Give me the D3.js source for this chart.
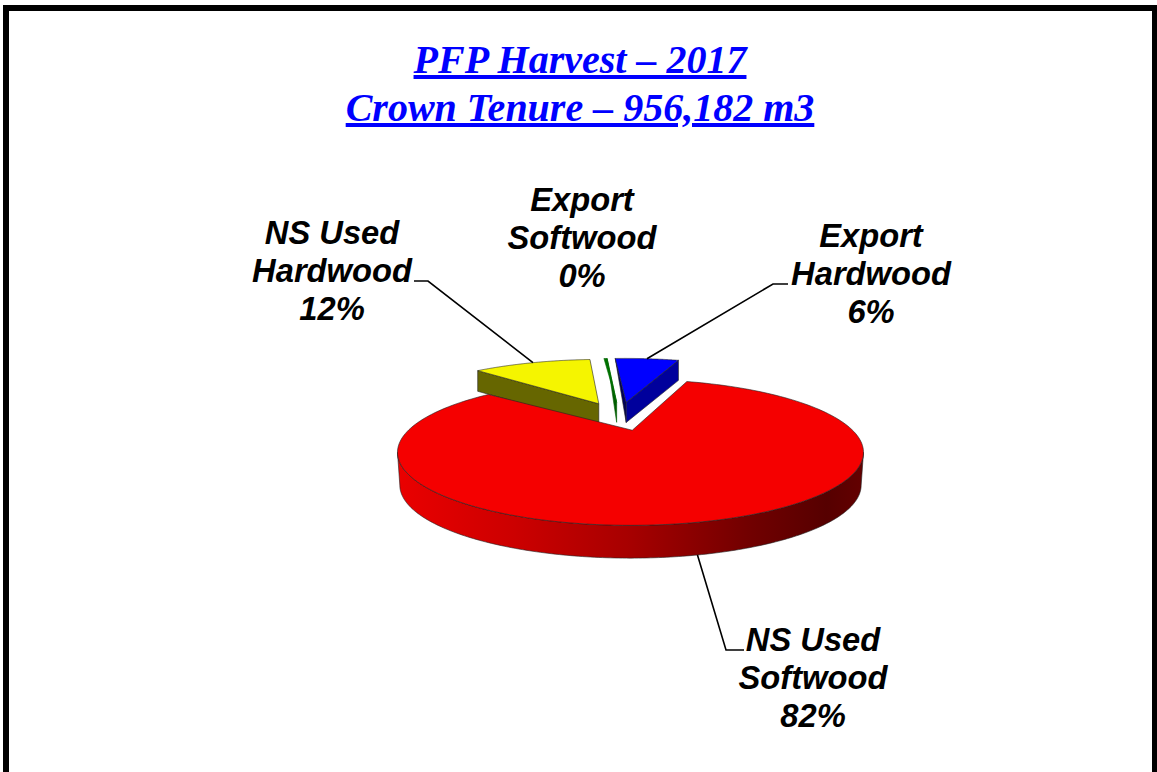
<!DOCTYPE html>
<html>
<head>
<meta charset="utf-8">
<title>PFP Harvest 2017</title>
<script src="https://cdn.jsdelivr.net/npm/d3@7"></script>
<style>
  html, body { margin: 0; padding: 0; background: white; overflow: hidden; }
</style>
</head>
<body>
<script>
// chart data, order is clockwise starting at the blue slice
var categories = ["Export Hardwood", "NS Used Softwood", "NS Used Hardwood", "Export Softwood"];
var values = [6, 81.3, 12, 0.3];
var percentLabels = ["6%", "82%", "12%", "0%"];
var titleLines = ["PFP Harvest – 2017", "Crown Tenure – 956,182 m3"];

var topColors = ["#0000ff", "#f50000", "#f5f500", "#007000"];
var wallColors = ["#00009c", "#a00000", "#666600", "#005c00"];
var backWallColors = ["#00005a", "#a00000", "#666600", "#005c00"];

// parameters plot
var width = 1157;
var height = 772;
var pieParam = {
  cx: 620,
  cy: 442,
  rx: 233,
  ry: 73,
  explodeX: 41,
  explodeY: 10.7,
  start: -0.06
};
var sliceSquash = [0.72, 0.765, 0.65, 0.72];

// label blocks: x centre, first baseline, elbow of the leader line
var labelParam = [
  {x: 871, y: 247, lines: ["Export", "Hardwood"], elbow: [[773, 284], [788, 284]], shift: 0},
  {x: 813, y: 651, lines: ["NS Used", "Softwood"], elbow: [[726, 650], [744, 650]], shift: 0.035},
  {x: 332, y: 244, lines: ["NS Used", "Hardwood"], elbow: [[428, 281], [414, 281]], shift: 0},
  {x: 582, y: 211, lines: ["Export", "Softwood"], elbow: null, shift: 0}
];

var svg = d3.select("body")
            .append("svg")
            .attr("width", width)
            .attr("height", height)
            .style("display", "block");

// red wall shading runs from left to right
var gradient = svg.append("defs")
                  .append("linearGradient")
                  .attr("id", "redWall")
                  .attr("gradientUnits", "userSpaceOnUse")
                  .attr("x1", 398)
                  .attr("x2", 864)
                  .attr("y1", 0)
                  .attr("y2", 0);
[[0, "#ea0000"], [0.25, "#cc0000"], [0.5, "#a60000"], [0.75, "#720000"], [0.92, "#560000"], [1, "#640000"]]
  .forEach(function(s) {
    gradient.append("stop").attr("offset", s[0]).attr("stop-color", s[1]);
  });

var pie = d3.pie()
            .sort(null)
            .value(function(d) { return d; })
            .startAngle(pieParam.start)
            .endAngle(pieParam.start + 2 * Math.PI);

var slices = pie(values).map(function(s, i) {
  /*
  Adds the projected geometry to every slice: the ellipse
  centre after exploding, the apex and the wall depth
  */
  var mid = (s.startAngle + s.endAngle) / 2;
  var sliceInfo = {
    index: i,
    start: s.startAngle,
    end: s.endAngle,
    mid: mid,
    cx: pieParam.cx + pieParam.explodeX * Math.sin(mid),
    cy: pieParam.cy - pieParam.explodeY * Math.cos(mid),
    depth: 26.5 - 6.5 * Math.cos(mid)
  };
  var lift = 25.5 + 3.5 * Math.cos(mid);
  sliceInfo.apex = [sliceInfo.cx + 7 * Math.sin(mid), sliceInfo.cy - lift];
  return sliceInfo;
});

function project(angle, squash) {
  // far side of the pie looks narrower than the near side
  var half = angle / 2;
  return 2 * Math.atan2(squash * Math.sin(half), Math.cos(half));
}

function rim(slice, angle, drop) {
  var t = project(angle, sliceSquash[slice.index]);
  return [slice.cx + pieParam.rx * Math.sin(t),
          slice.cy - pieParam.ry * Math.cos(t) + (drop || 0)];
}

function rimPoints(slice, from, to) {
  return d3.range(0, 181).map(function(k) {
    return rim(slice, from + (to - from) * k / 180);
  });
}

var line = d3.line();

function drawShape(points, fill, stroke) {
  svg.append("path")
     .attr("d", line(points) + "Z")
     .attr("fill", fill)
     .attr("stroke", stroke || "#222")
     .attr("stroke-width", 0.6)
     .attr("stroke-linejoin", "round");
}

function drawBackSlice(slice) {
  /*
  Small slices on the far side: the walls on the cut
  edges first and the top face over them
  */
  var first = rim(slice, slice.start);
  var last = rim(slice, slice.end);
  var apexDown = [slice.apex[0], slice.apex[1] + slice.depth];
  var backColor = backWallColors[slice.index];
  var wallColor = wallColors[slice.index];
  var edge = slice.index === 3 ? topColors[3] : "#222";

  if (slice.index === 0) {
    drawShape([first, slice.apex, apexDown], backColor);
    drawShape([slice.apex, last, [last[0], last[1] + slice.depth], apexDown], wallColor);
  } else if (slice.index === 2) {
    drawShape([first, slice.apex, apexDown, [first[0], first[1] + slice.depth]], wallColor);
  } else {
    drawShape([last, slice.apex, apexDown], backColor, backColor);
  }
  drawShape([slice.apex].concat(rimPoints(slice, slice.start, slice.end)), topColors[slice.index], edge);
}

function drawFrontSlice(slice) {
  // outer wall on the near half and then the top face
  var wall = d3.range(0, 181).map(function(k) {
    var t = Math.PI / 2 + Math.PI * k / 180;
    return [slice.cx + pieParam.rx * Math.sin(t), slice.cy - pieParam.ry * Math.cos(t)];
  });
  var wallBottom = wall.slice().reverse().map(function(p) {
    return [slice.cx + (p[0] - slice.cx) * 0.99, p[1] + slice.depth];
  });
  svg.append("path")
     .attr("d", line(wall.concat(wallBottom)) + "Z")
     .attr("fill", "url(#redWall)")
     .attr("stroke", "#222")
     .attr("stroke-width", 0.6);
  drawShape([slice.apex].concat(rimPoints(slice, slice.start, slice.end)), topColors[slice.index]);
}

function drawLeader(slice) {
  // leader line from the rim of the slice to its label
  var param = labelParam[slice.index];
  if (!param.elbow) {
    return;
  }
  var drop = slice.index === 1 ? slice.depth : 0;
  var anchor = rim(slice, slice.mid + param.shift, drop);
  svg.append("path")
     .attr("d", line([anchor].concat(param.elbow)))
     .attr("fill", "none")
     .attr("stroke", "black")
     .attr("stroke-width", 1.6);
}

function drawLabel(slice) {
  var param = labelParam[slice.index];
  var text = svg.append("text")
                .attr("text-anchor", "middle")
                .style("font-family", "'Liberation Sans', Arial, sans-serif")
                .style("font-weight", "bold")
                .style("font-style", "italic")
                .style("font-size", "32.7px")
                .attr("fill", "black");
  param.lines.concat([percentLabels[slice.index]]).forEach(function(t, i) {
    text.append("tspan")
        .attr("x", param.x)
        .attr("y", param.y + i * 38)
        .text(t);
  });
}

// outer frame, bottom side falls off the page
svg.append("rect")
   .attr("x", 6)
   .attr("y", 8)
   .attr("width", 1149)
   .attr("height", 800)
   .attr("fill", "white")
   .attr("stroke", "black")
   .attr("stroke-width", 6);

// title
titleLines.forEach(function(t, i) {
  svg.append("text")
     .attr("x", 580)
     .attr("y", 73 + i * 48)
     .attr("text-anchor", "middle")
     .style("font-family", "'Liberation Serif', 'Times New Roman', serif")
     .style("font-weight", "bold")
     .style("font-style", "italic")
     .style("font-size", "40px")
     .style("text-decoration", "underline")
     .attr("fill", "#0000ff")
     .text(t);
});

drawBackSlice(slices[2]);
drawBackSlice(slices[3]);
drawBackSlice(slices[0]);
drawFrontSlice(slices[1]);

slices.forEach(drawLeader);
slices.forEach(drawLabel);
</script>
</body>
</html>
